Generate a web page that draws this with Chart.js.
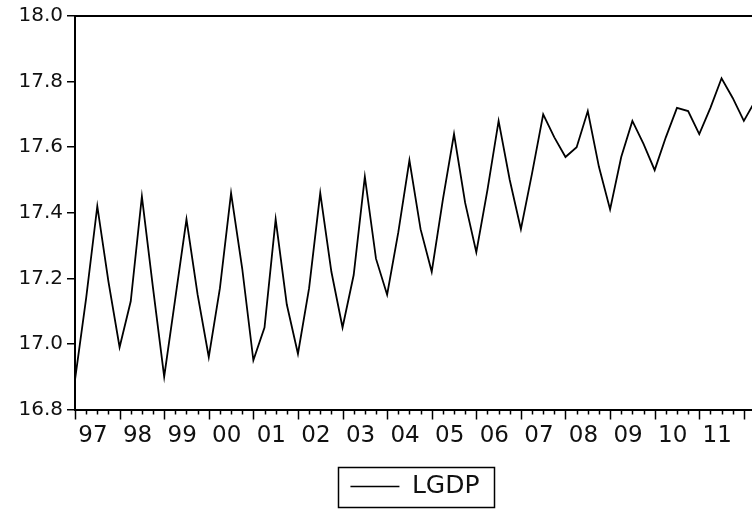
<!DOCTYPE html>
<html>
<head>
<meta charset="utf-8">
<script src="https://cdn.jsdelivr.net/npm/chart.js@4.4.1/dist/chart.umd.min.js"></script>
<style>
  html, body { margin: 0; padding: 0; background: #fff; overflow: hidden; }
  #wrap { width: 752px; height: 509px; overflow: hidden; }
</style>
</head>
<body>
<div id="wrap">
  <canvas id="myChart" width="830" height="509"></canvas>
</div>
<script>
// quarterly observations, 1997Q1 .. 2012Q2 (the last ones run past the cropped right edge)
const quarters = [];
for (let y = 1997; y <= 2012; y++) {
  for (let q = 1; q <= 4; q++) {
    if (y === 2012 && q > 2) break;
    quarters.push(y + "Q" + q);
  }
}

const lgdp = [
  16.89, 17.14, 17.42, 17.19,  // 97
  16.99, 17.13, 17.45, 17.17,  // 98
  16.90, 17.14, 17.38, 17.15,  // 99
  16.96, 17.17, 17.46, 17.23,  // 00
  16.95, 17.05, 17.38, 17.12,  // 01
  16.97, 17.17, 17.46, 17.22,  // 02
  17.05, 17.21, 17.51, 17.26,  // 03
  17.15, 17.34, 17.56, 17.35,  // 04
  17.22, 17.44, 17.64, 17.43,  // 05
  17.28, 17.47, 17.68, 17.50,  // 06
  17.35, 17.52, 17.70, 17.63,  // 07
  17.57, 17.60, 17.71, 17.54,  // 08
  17.41, 17.57, 17.68, 17.61,  // 09
  17.53, 17.63, 17.72, 17.71,  // 10
  17.64, 17.72, 17.81, 17.75,  // 11
  17.68, 17.74                 // 12
];

const yearLabels = ["97","98","99","00","01","02","03","04","05","06","07","08","09","10","11"];
const yTicks = [16.8, 17.0, 17.2, 17.4, 17.6, 17.8, 18.0];

const fontFamily = "'DejaVu Sans', sans-serif";
Chart.defaults.color = "#111";

// tick marks under the date axis (short per quarter, long per year), top frame, legend frame
const framePlugin = {
  id: "frame",
  afterLayout(chart) {
    // centre the legend under the plot area rather than the whole canvas
    const lg = chart.legend;
    const shift = (chart.chartArea.left + chart.chartArea.right) / 2 - (lg.left + lg.right) / 2;
    lg.left += shift;
    lg.right += shift;
  },
  afterDraw(chart) {
    const ctx = chart.ctx;
    const area = chart.chartArea;
    const xs = chart.scales.x;
    ctx.save();
    ctx.strokeStyle = "#000";
    ctx.lineWidth = 1.5;
    for (let i = 0; i < quarters.length; i++) {
      const px = Math.round(xs.getPixelForValue(i)) + 0.5;
      const len = (i % 4 === 0) ? 10 : 5;
      ctx.beginPath();
      ctx.moveTo(px, area.bottom);
      ctx.lineTo(px, area.bottom + len);
      ctx.stroke();
    }
    ctx.lineWidth = 2;
    ctx.beginPath();
    ctx.moveTo(area.left, area.top);
    ctx.lineTo(area.right, area.top);
    ctx.stroke();

    const hb = chart.legend.legendHitBoxes[0];
    if (hb) {
      const cy = hb.top + hb.height / 2;
      ctx.lineWidth = 1.5;
      ctx.strokeRect(Math.round(hb.left - 12) + 0.5, Math.round(cy - 20) + 0.5,
                     Math.round(hb.width + 27), 40);
    }
    ctx.restore();
  }
};

new Chart("myChart", {
  type: "line",
  data: {
    labels: quarters,
    datasets: [{
      label: "LGDP",
      data: lgdp.map((v, i) => ({x: i, y: v})),
      borderColor: "#000",
      backgroundColor: "#000",
      borderWidth: 1.8,
      pointRadius: 0,
      tension: 0,
      fill: false
    }]
  },
  options: {
    responsive: false,
    animation: false,
    layout: { padding: { top: 15, right: 75, bottom: 0, left: 0 } },
    plugins: {
      tooltip: { enabled: false },
      legend: {
        display: true,
        position: "bottom",
        labels: {
          font: { family: fontFamily, size: 25 },
          color: "#111",
          boxWidth: 49,
          boxHeight: 1.5,
          padding: 10,
          generateLabels(chart) {
            const items = Chart.defaults.plugins.legend.labels.generateLabels(chart);
            items.forEach(it => { it.fillStyle = "#000"; it.lineWidth = 0; });
            return items;
          }
        }
      }
    },
    scales: {
      x: {
        type: "linear",
        min: 0,
        max: quarters.length - 1,
        grid: { display: false, drawTicks: false },
        border: { display: true, color: "#000", width: 2 },
        afterBuildTicks(scale) {
          scale.ticks = yearLabels.map((_, k) => ({ value: 4 * k + 0.3 }));
        },
        afterFit(scale) { scale.height = 54.5; },
        ticks: {
          align: "start",
          autoSkip: false,
          maxRotation: 0,
          padding: 13,
          font: { family: fontFamily, size: 23 },
          callback: (v, i) => yearLabels[i]
        }
      },
      y: {
        min: yTicks[0],
        max: yTicks[yTicks.length - 1],
        grid: { drawOnChartArea: false, drawTicks: true, tickLength: 8, color: "#000", lineWidth: 1.5 },
        border: { display: true, color: "#000", width: 2 },
        afterBuildTicks(scale) {
          scale.ticks = yTicks.map(v => ({ value: v }));
        },
        afterFit(scale) { scale.width = 75; },
        ticks: {
          padding: 4,
          font: { family: fontFamily, size: 20 },
          callback: v => v.toFixed(1)
        }
      }
    }
  },
  plugins: [framePlugin]
});
</script>
</body>
</html>
